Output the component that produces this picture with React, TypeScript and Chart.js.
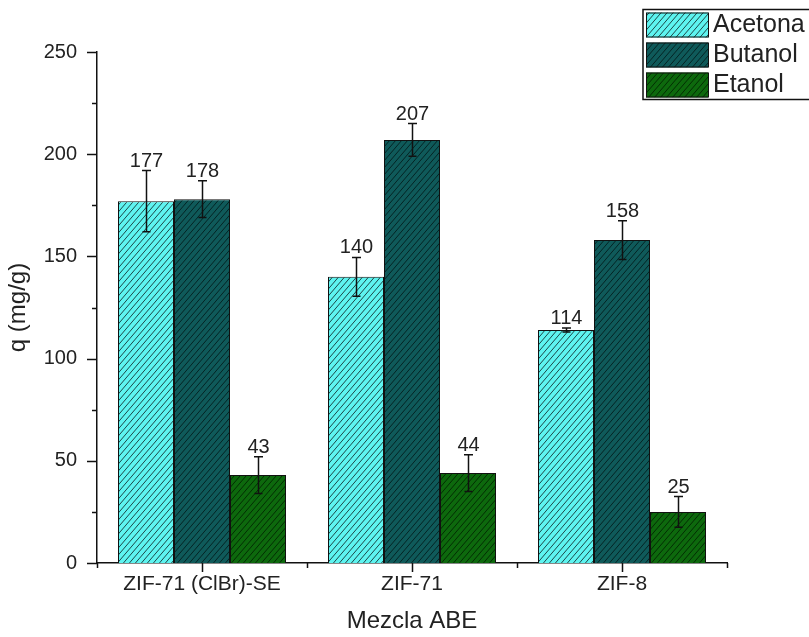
import React, { useEffect, useRef } from "react";
import { Chart, registerables } from "chart.js";

Chart.register(...registerables);

// Adsorption capacity per material for each component of the ABE mixture
const categories = ["ZIF-71 (ClBr)-SE", "ZIF-71", "ZIF-8"];
const seriesNames = ["Acetona", "Butanol", "Etanol"];
const acetona = [177, 140, 114];
const butanol = [178, 207, 158];
const etanol = [43, 44, 25];
const acetonaErr = [15, 9.5, 1];
const butanolErr = [9, 8, 9.5];
const etanolErr = [9, 9, 7.5];
const yMin = 0;
const yMax = 250;
const yStep = 50;
const yMinorStep = 25;

const FONT = "'Liberation Sans', Arial, sans-serif";
const TEXT = "#222";
const INK = "#111";

const seriesValues = [acetona, butanol, etanol];
const seriesErrors = [acetonaErr, butanolErr, etanolErr];
const fills = [
  { bg: "#5ef4f0", line: "#1c4848" },
  { bg: "#0f5a5a", line: "#052424" },
  { bg: "#0d690d", line: "#042e04" },
];

function hatch(bg: string, line: string): CanvasPattern | string {
  const w = 6;
  const h = 7;
  const c = document.createElement("canvas");
  c.width = w;
  c.height = h;
  const g = c.getContext("2d");
  if (!g) return bg;
  g.fillStyle = bg;
  g.fillRect(0, 0, w, h);
  g.strokeStyle = line;
  g.lineWidth = 1;
  g.beginPath();
  for (let k = -1; k <= 1; k++) {
    g.moveTo(k * w, h);
    g.lineTo(k * w + w, 0);
  }
  g.stroke();
  return g.createPattern(c, "repeat") || bg;
}

// Error bars and value labels above each bar
const errorBarsPlugin = {
  id: "errorBars",
  afterDatasetsDraw(chart: any) {
    const ctx = chart.ctx as CanvasRenderingContext2D;
    const y = chart.scales.y;
    chart.data.datasets.forEach((ds: any, i: number) => {
      const meta = chart.getDatasetMeta(i);
      const errs: number[] = ds.errors;
      meta.data.forEach((bar: any, j: number) => {
        const v = ds.data[j] as number;
        const e = errs[j];
        const x = Math.round(bar.x) + 0.5;
        const top = y.getPixelForValue(v + e);
        const bot = y.getPixelForValue(v - e);
        ctx.save();
        ctx.strokeStyle = INK;
        ctx.lineWidth = 1.5;
        ctx.beginPath();
        ctx.moveTo(x, top);
        ctx.lineTo(x, bot);
        ctx.moveTo(x - 4.5, top);
        ctx.lineTo(x + 4.5, top);
        ctx.moveTo(x - 4, bot);
        ctx.lineTo(x + 4, bot);
        ctx.stroke();
        ctx.fillStyle = TEXT;
        ctx.font = `20px ${FONT}`;
        ctx.textAlign = "center";
        ctx.textBaseline = "alphabetic";
        ctx.fillText(String(v), x, top - 4);
        ctx.restore();
      });
    });
  },
};

// Outward major/minor tick marks on both axes
const ticksPlugin = {
  id: "axisTicks",
  afterDraw(chart: any) {
    const ctx = chart.ctx as CanvasRenderingContext2D;
    const { left, bottom } = chart.chartArea;
    const x = chart.scales.x;
    const y = chart.scales.y;
    ctx.save();
    ctx.strokeStyle = INK;
    ctx.lineWidth = 1.5;
    ctx.beginPath();
    for (let v = yMin; v <= yMax; v += yMinorStep) {
      const py = Math.round(y.getPixelForValue(v)) + 0.5;
      const len = v % yStep === 0 ? 10 : 5;
      ctx.moveTo(left - len, py);
      ctx.lineTo(left, py);
    }
    categories.forEach((_, j) => {
      const px = Math.round(x.getPixelForValue(j)) + 0.5;
      ctx.moveTo(px, bottom);
      ctx.lineTo(px, bottom + 9);
    });
    for (let j = 0; j <= categories.length; j++) {
      const px = Math.round(x.getPixelForValue(j - 0.5)) + 0.5;
      ctx.moveTo(px, bottom);
      ctx.lineTo(px, bottom + 5);
    }
    ctx.stroke();
    ctx.restore();
  },
};

// Boxed legend in the top-right corner
const legendPlugin = {
  id: "boxLegend",
  afterDraw(chart: any) {
    const ctx = chart.ctx as CanvasRenderingContext2D;
    const bx = 643;
    const by = 9.5;
    const rowH = 30;
    ctx.save();
    ctx.fillStyle = "#fff";
    ctx.fillRect(bx, by, 200, rowH * seriesNames.length);
    chart.data.datasets.forEach((ds: any, i: number) => {
      const sy = by + i * rowH + 3;
      ctx.fillStyle = ds.backgroundColor;
      ctx.fillRect(bx + 3, sy, 62, rowH - 5);
      ctx.strokeStyle = INK;
      ctx.lineWidth = 1;
      ctx.strokeRect(bx + 3.5, sy + 0.5, 62, rowH - 6);
      ctx.fillStyle = TEXT;
      ctx.font = `25px ${FONT}`;
      ctx.textAlign = "left";
      ctx.textBaseline = "middle";
      ctx.fillText(ds.label, bx + 70, by + i * rowH + rowH / 2 + 1);
    });
    ctx.strokeStyle = INK;
    ctx.lineWidth = 1.5;
    ctx.strokeRect(bx, by, 200, rowH * seriesNames.length);
    ctx.restore();
  },
};

export default function App() {
  const canvasRef = useRef<HTMLCanvasElement | null>(null);

  useEffect(() => {
    const canvas = canvasRef.current;
    if (!canvas) return;
    const chart = new Chart(canvas, {
      type: "bar",
      data: {
        labels: categories,
        datasets: seriesNames.map((name, i) => ({
          label: name,
          data: seriesValues[i],
          errors: seriesErrors[i],
          backgroundColor: hatch(fills[i].bg, fills[i].line),
          borderColor: INK,
          borderWidth: 1,
          categoryPercentage: 0.8,
          barPercentage: 1.0,
        })) as any,
      },
      options: {
        responsive: false,
        animation: false,
        layout: { padding: { left: 0, top: 52, right: 82, bottom: 0 } },
        plugins: {
          legend: { display: false },
          tooltip: { enabled: false },
        },
        scales: {
          x: {
            type: "category",
            offset: true,
            grid: { display: false, drawTicks: false },
            border: { display: true, color: INK, width: 1.5 },
            ticks: {
              color: TEXT,
              font: { family: FONT, size: 21 },
              padding: 9,
              maxRotation: 0,
              autoSkip: false,
            },
            title: {
              display: true,
              text: "Mezcla ABE",
              color: TEXT,
              font: { family: FONT, size: 24 },
              padding: { top: 0, bottom: 1 },
            },
            afterFit(scale: any) {
              scale.height = 74;
            },
          },
          y: {
            min: yMin,
            max: yMax,
            grid: { display: false, drawTicks: false },
            border: { display: true, color: INK, width: 1.5 },
            ticks: {
              stepSize: yStep,
              color: TEXT,
              font: { family: FONT, size: 20 },
              padding: 20,
            },
            title: {
              display: true,
              text: "q (mg/g)",
              color: TEXT,
              font: { family: FONT, size: 24 },
              padding: { top: 4, bottom: 0 },
            },
            afterFit(scale: any) {
              scale.width = 97;
            },
          },
        },
      },
      plugins: [errorBarsPlugin, ticksPlugin, legendPlugin],
    });
    return () => chart.destroy();
  }, []);

  return (
    <div style={{ position: "absolute", left: 0, top: 0, width: 809, height: 637, background: "#fff" }}>
      <canvas ref={canvasRef} width={809} height={637} style={{ display: "block" }} />
    </div>
  );
}
